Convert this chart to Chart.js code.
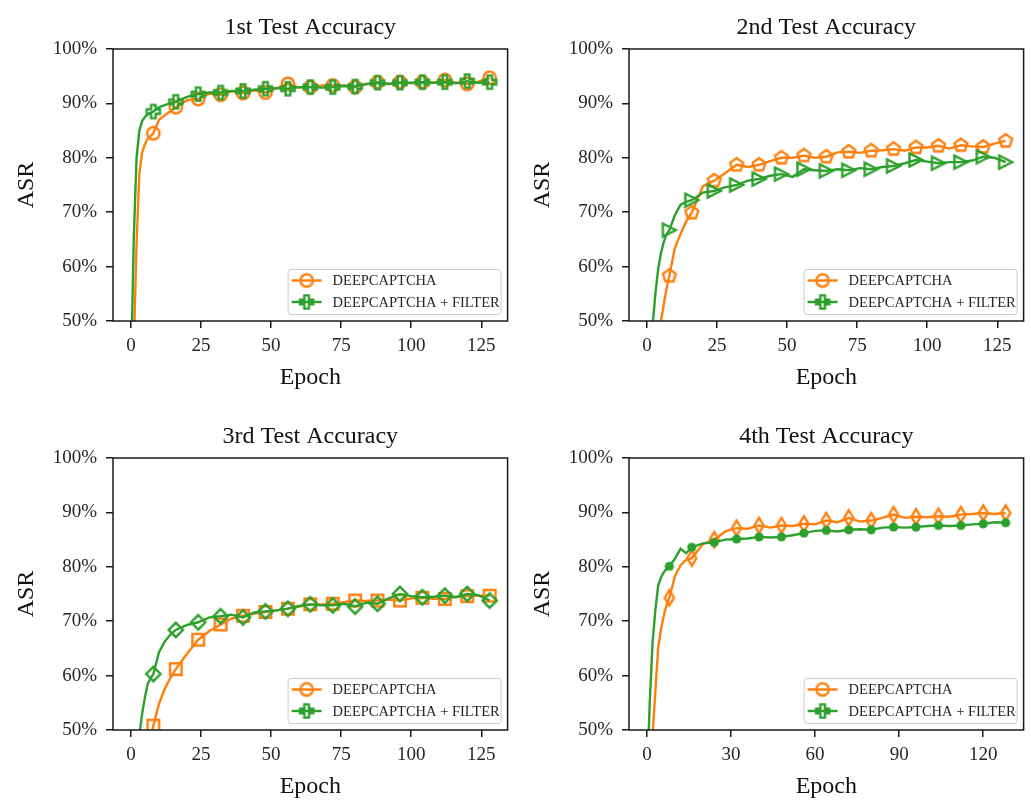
<!DOCTYPE html>
<html lang="en">
<head>
<meta charset="UTF-8">
<title>Test Accuracy</title>
<script src="https://cdn.jsdelivr.net/npm/chart.js"></script>
<style>
  html, body { margin: 0; padding: 0; background: #fff; overflow: hidden; }
  body { width: 1031px; height: 802px; position: relative; }
  .panel { position: absolute; width: 516px; height: 401px; }
  canvas { display: block; }
</style>
</head>
<body>

<div class="panel" style="left:0;top:0"><canvas id="c1" width="516" height="401"></canvas></div>
<div class="panel" style="left:516px;top:0"><canvas id="c2" width="516" height="401"></canvas></div>
<div class="panel" style="left:0;top:409px"><canvas id="c3" width="516" height="401"></canvas></div>
<div class="panel" style="left:516px;top:409px"><canvas id="c4" width="516" height="401"></canvas></div>

<script>
  const epochs = [0, 1, 2, 3, 4, 5, 6, 7, 8, 10, 12, 14,
    16, 20, 24, 28, 32, 36, 40, 44, 48, 52, 56, 60, 64, 68, 72, 76,
    80, 84, 88, 92, 96, 100, 104, 108, 112, 116, 120, 124, 128];

  const seriesNames = ['DEEPCAPTCHA', 'DEEPCAPTCHA + FILTER'];
  const titles = ['1st Test Accuracy', '2nd Test Accuracy', '3rd Test Accuracy', '4th Test Accuracy'];
  const yTicks = [50, 60, 70, 80, 90, 100];
  const xTicksA = [0, 25, 50, 75, 100, 125];
  const xTicksB = [0, 30, 60, 90, 120];

  // 1st test
  const p1Deep = [30, 45, 64, 77, 81, 82.5, 83.5, 84, 84.5, 87.0, 87.8, 88.5,
    89.3, 90.6, 90.8, 91.8, 91.6, 92.2, 91.9, 92.4, 92.0, 92.8, 93.6, 92.9, 93.0, 93.3, 93.3, 93.3,
    93.0, 93.5, 93.9, 93.5, 93.9, 93.7, 93.9, 93.8, 94.3, 93.8, 93.6, 94.0, 94.7];
  const p1Filter = [40, 65, 80, 85, 86.8, 87.5, 88, 88.3, 88.5, 89.3, 89.7, 90.0,
    90.3, 91.2, 91.7, 92.0, 92.0, 92.3, 92.3, 92.5, 92.7, 92.8, 92.7, 93.0, 93.0, 92.9, 93.0, 93.2,
    93.1, 93.6, 93.8, 93.6, 93.8, 93.8, 93.9, 93.8, 93.9, 93.7, 94.1, 93.8, 93.9];

  // 2nd test
  const p2Deep = [10, 20, 30, 38, 44, 50, 53, 56, 58.3, 63.5, 66, 68.3,
    69.9, 74.8, 75.8, 77.2, 78.7, 78.3, 78.7, 79.4, 80.0, 80.0, 80.4, 80.0, 80.2, 81.0, 81.1, 80.9,
    81.3, 81.4, 81.6, 81.3, 81.9, 81.9, 82.2, 81.7, 82.3, 82.1, 82.0, 82.6, 83.1];
  const p2Filter = [20, 35, 49, 55, 59.5, 62.5, 64.5, 66, 66.7, 69.5, 71.4, 71.9,
    72.2, 73.6, 73.9, 74.6, 75.0, 75.8, 76.1, 76.7, 77.0, 76.5, 77.9, 77.7, 77.6, 77.9, 77.7, 78.1,
    77.9, 78.3, 78.5, 79.0, 79.6, 79.3, 79.0, 79.2, 79.2, 79.5, 80.2, 80.0, 79.2];

  // 3rd test
  const p3Deep = [10, 18, 26, 34, 40, 42, 44, 48.5, 50.8, 54.8, 57.5, 59.5,
    61.2, 64.0, 66.6, 68.2, 69.4, 70.5, 71.0, 71.4, 71.7, 72.0, 72.3, 72.7, 73.1, 73.1, 73.2, 73.5,
    73.8, 73.7, 73.8, 74.0, 73.8, 74.2, 74.3, 74.1, 74.1, 74.5, 74.6, 74.7, 74.7];
  const p3Filter = [20, 30, 40, 49, 53, 56, 58.5, 59.5, 60.3, 64.3, 66.2, 67.5,
    68.4, 69.3, 69.8, 70.7, 70.9, 71.2, 70.7, 71.6, 71.8, 72.0, 72.3, 72.8, 73.1, 72.9, 72.9, 73.2,
    72.7, 73.4, 73.2, 74.2, 75.0, 74.6, 74.4, 74.5, 74.7, 74.4, 75.0, 74.8, 73.8];

  // 4th test
  const p4Deep = [20, 35, 49, 57, 65, 68.5, 71, 73, 74.3, 78.3, 80.3, 81.3,
    81.6, 84.2, 85.0, 86.5, 87.1, 87.0, 87.6, 87.2, 87.6, 87.5, 87.9, 87.8, 88.5, 88.2, 89.0, 88.3,
    88.5, 89.0, 89.6, 89.0, 89.2, 89.1, 89.3, 89.2, 89.6, 89.7, 89.9, 89.7, 89.9];
  const p4Filter = [40, 55, 66, 72, 76.5, 78, 79, 79.6, 80.1, 81.5, 83.3, 82.5,
    83.6, 84.3, 84.5, 85.0, 85.1, 85.2, 85.5, 85.4, 85.5, 85.8, 86.2, 86.6, 86.7, 86.5, 86.8, 86.9,
    86.8, 87.2, 87.3, 87.2, 87.3, 87.5, 87.6, 87.5, 87.6, 87.8, 87.9, 88.2, 88.1];

  const ORANGE = '#ff7f0e';
  const GREEN = '#2ca02c';
  const FONT = "'Liberation Serif', 'DejaVu Serif', serif";
  const LW = 2.4;

  // small canvases used as point styles (matplotlib-like markers)
  function makeMarker(shape, color) {
    const c = document.createElement('canvas');
    c.width = 22; c.height = 22;
    const g = c.getContext('2d');
    g.translate(11, 11);
    g.strokeStyle = color;
    g.fillStyle = color;
    g.lineWidth = LW;
    g.lineJoin = 'miter';
    let pts = null;
    g.beginPath();
    if (shape === 'circle') {
      g.arc(0, 0, 6.2, 0, Math.PI * 2);
    } else if (shape === 'dot') {
      g.arc(0, 0, 4.6, 0, Math.PI * 2);
    } else if (shape === 'plus') {
      const a = 6.6, b = 2.3;
      pts = [[-b, -a], [b, -a], [b, -b], [a, -b], [a, b], [b, b], [b, a], [-b, a], [-b, b], [-a, b], [-a, -b], [-b, -b]];
    } else if (shape === 'pentagon') {
      pts = [];
      for (let k = 0; k < 5; k++) {
        const ang = -Math.PI / 2 + k * 2 * Math.PI / 5;
        pts.push([6.8 * Math.cos(ang), 6.8 * Math.sin(ang)]);
      }
    } else if (shape === 'triright') {
      pts = [[6.5, 0], [-6.5, 6.5], [-6.5, -6.5]];
    } else if (shape === 'square') {
      pts = [[-5.8, -5.8], [5.8, -5.8], [5.8, 5.8], [-5.8, 5.8]];
    } else if (shape === 'diamond') {
      pts = [[0, -7.2], [7.2, 0], [0, 7.2], [-7.2, 0]];
    } else if (shape === 'thindiamond') {
      pts = [[0, -7.6], [4.6, 0], [0, 7.6], [-4.6, 0]];
    }
    if (pts) {
      g.moveTo(pts[0][0], pts[0][1]);
      pts.slice(1).forEach(p => g.lineTo(p[0], p[1]));
      g.closePath();
    }
    if (shape === 'dot') g.fill(); else g.stroke();
    return c;
  }

  const legendMarkers = [makeMarker('circle', ORANGE), makeMarker('plus', GREEN)];

  // axes frame + legend box in the lower right corner
  const framePlugin = {
    id: 'frameAndLegend',
    afterDatasetsDraw(chart) {
      const a = chart.chartArea;
      const ctx = chart.ctx;
      ctx.save();
      ctx.strokeStyle = '#1a1a1a';
      ctx.lineWidth = 1.5;
      ctx.strokeRect(a.left, a.top, a.right - a.left, a.bottom - a.top);

      const w = 213, h = 45;
      const x = a.right - 7 - w, y = a.bottom - 7 - h;
      ctx.beginPath();
      ctx.roundRect(x + 0.5, y + 0.5, w, h, 3);
      ctx.fillStyle = 'rgba(255,255,255,0.8)';
      ctx.fill();
      ctx.strokeStyle = '#cccccc';
      ctx.lineWidth = 1;
      ctx.stroke();

      chart.data.datasets.forEach((ds, i) => {
        const yy = y + 11.5 + i * 21.5;
        ctx.beginPath();
        ctx.moveTo(x + 4, yy);
        ctx.lineTo(x + 34, yy);
        ctx.strokeStyle = ds.borderColor;
        ctx.lineWidth = LW;
        ctx.stroke();
        ctx.drawImage(legendMarkers[i], x + 19 - 11, yy - 11);
        ctx.fillStyle = '#262626';
        ctx.font = '14.5px ' + FONT;
        ctx.textBaseline = 'middle';
        ctx.fillText(seriesNames[i], x + 45, yy + 1);
      });
      ctx.restore();
    }
  };

  function isMarker(i) {
    return epochs[i] > 0 && epochs[i] % 8 === 0;
  }

  function makeDataset(label, values, color, marker, order) {
    return {
      label: label,
      data: epochs.map((e, i) => ({ x: e, y: values[i] })),
      borderColor: color,
      backgroundColor: color,
      borderWidth: LW,
      tension: 0,
      order: order,
      pointStyle: marker,
      pointRadius: ctx => isMarker(ctx.dataIndex) ? 6 : 0,
      pointHoverRadius: ctx => isMarker(ctx.dataIndex) ? 6 : 0
    };
  }

  function drawPanel(id, title, deep, filter, deepMarker, filterMarker, xTicks) {
    new Chart(document.getElementById(id), {
      type: 'line',
      data: {
        datasets: [
          makeDataset(seriesNames[0], deep, ORANGE, deepMarker, 1),
          makeDataset(seriesNames[1], filter, GREEN, filterMarker, 0)
        ]
      },
      options: {
        responsive: false,
        animation: false,
        devicePixelRatio: 1,
        events: [],
        layout: { padding: { left: 0, right: 6, top: 0, bottom: 0 } },
        plugins: {
          legend: { display: false },
          tooltip: { enabled: false },
          title: {
            display: true,
            text: title,
            fullSize: false,
            color: '#111',
            font: { family: FONT, size: 24, weight: 'normal' },
            padding: { top: 13.4, bottom: 6.8 }
          }
        },
        scales: {
          x: {
            type: 'linear',
            min: -6.4,
            max: 134.4,
            afterFit: s => { s.height = 80; },
            afterBuildTicks: s => { s.ticks = xTicks.map(v => ({ value: v })); },
            ticks: { color: '#262626', font: { family: FONT, size: 19 }, padding: 7, maxRotation: 0 },
            grid: { drawOnChartArea: false, drawTicks: true, tickLength: 7, color: '#1a1a1a', lineWidth: 1.5 },
            border: { display: false },
            title: { display: true, text: 'Epoch', color: '#111', font: { family: FONT, size: 24 }, padding: { top: 0, bottom: 9 } }
          },
          y: {
            min: 50,
            max: 100,
            afterFit: s => { s.width = 113; },
            afterBuildTicks: s => { s.ticks = yTicks.map(v => ({ value: v })); },
            ticks: { color: '#262626', font: { family: FONT, size: 19 }, padding: 9, callback: v => v + '%' },
            grid: { drawOnChartArea: false, drawTicks: true, tickLength: 7, color: '#1a1a1a', lineWidth: 1.5 },
            border: { display: false },
            title: { display: true, text: 'ASR', color: '#111', font: { family: FONT, size: 24 }, padding: { top: 12, bottom: 0 } }
          }
        }
      },
      plugins: [framePlugin]
    });
  }

  drawPanel('c1', titles[0], p1Deep, p1Filter, makeMarker('circle', ORANGE), makeMarker('plus', GREEN), xTicksA);
  drawPanel('c2', titles[1], p2Deep, p2Filter, makeMarker('pentagon', ORANGE), makeMarker('triright', GREEN), xTicksA);
  drawPanel('c3', titles[2], p3Deep, p3Filter, makeMarker('square', ORANGE), makeMarker('diamond', GREEN), xTicksA);
  drawPanel('c4', titles[3], p4Deep, p4Filter, makeMarker('thindiamond', ORANGE), makeMarker('dot', GREEN), xTicksB);
</script>
</body>
</html>
